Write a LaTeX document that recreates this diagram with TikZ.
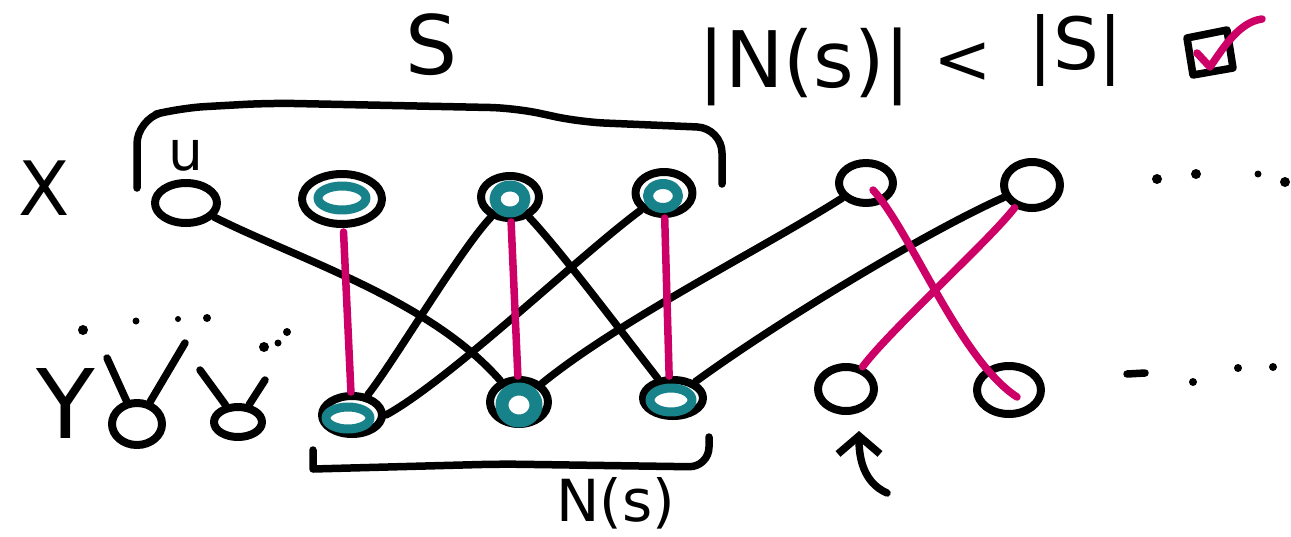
\documentclass[tikz,border=0pt]{standalone}
\usepackage{fontspec}
\setmainfont{DejaVu Sans}
\usetikzlibrary{shapes.geometric,arrows.meta}
\definecolor{mag}{RGB}{204,0,102}
\definecolor{tealc}{RGB}{24,130,138}
\begin{document}
\begin{tikzpicture}[x=1pt,y=-1pt,line cap=round,line join=round,
  vtx/.style={draw=black,line width=8pt,ellipse,inner sep=0pt},
  ringnode/.style={draw=tealc,line width=9pt,ellipse,inner sep=0pt},
  edgeline/.style={draw=black,line width=7.5pt},
  matchline/.style={draw=mag,line width=7.5pt},
  txt/.style={inner sep=0pt}]
\useasboundingbox (0,0) rectangle (1291,536);
\fill[white] (0,0) rectangle (1291,536);

% --- X side vertices
\node[vtx,minimum width=62pt,minimum height=40pt] (u)  at (186,203) {};
\node[vtx,minimum width=80pt,minimum height=50pt] (x2) at (342,199) {};
\node[vtx,minimum width=58pt,minimum height=42pt] (x3) at (510,197) {};
\node[vtx,minimum width=57pt,minimum height=42pt] (x4) at (664,193) {};
\node[vtx,minimum width=54pt,minimum height=40pt] (x5) at (866,183) {};
\node[vtx,minimum width=56pt,minimum height=46pt] (x6) at (1032,185) {};
% --- Y side vertices
\node[vtx,minimum width=50pt,minimum height=42pt] (ya) at (137,424) {};
\node[vtx,minimum width=48pt,minimum height=30pt] (yb) at (238,422) {};
\node[vtx,minimum width=60pt,minimum height=38pt] (y1) at (352,415) {};
\node[vtx,minimum width=58pt,minimum height=44pt] (y2) at (519,402) {};
\node[vtx,minimum width=60pt,minimum height=36pt] (y3) at (673,398) {};
\node[vtx,minimum width=56pt,minimum height=44pt] (y4) at (846,389) {};
\node[vtx,minimum width=64pt,minimum height=48pt] (y5) at (1009,390) {};

% --- teal marks inside vertices of S and N(S)
\node[ringnode,minimum width=48pt,minimum height=24pt] (x2r) at (342,198) {};
\node[ringnode,minimum width=30pt,minimum height=26pt,line width=11pt] (x3r) at (510,199) {};
\node[ringnode,minimum width=30pt,minimum height=24pt,line width=10pt] (x4r) at (663,196) {};
\node[ringnode,minimum width=44pt,minimum height=22pt] (y1r) at (348,418) {};
\node[ringnode,minimum width=34pt,minimum height=32pt,line width=13pt] (y2r) at (519,405) {};
\node[ringnode,minimum width=42pt,minimum height=24pt] (y3r) at (671,400) {};

% --- left Y vertices stems
\coordinate (ya1) at (107,358);
\coordinate (ya2) at (185,343);
\coordinate (yb1) at (200,370);
\coordinate (yb2) at (265,380);
\draw[edgeline] (ya) -- (ya1);
\draw[edgeline] (ya) -- (ya2);
\draw[edgeline] (yb) -- (yb1);
\draw[edgeline] (yb) -- (yb2);

% --- black edges
\draw[edgeline] (u) .. controls (300,260) and (430,300) .. (y2);
\draw[edgeline] (x3) .. controls (460,250) and (395,360) .. (y1);
\draw[edgeline] (x3) .. controls (560,250) and (620,330) .. (y3);
\draw[edgeline] (x4) .. controls (580,255) and (450,380) .. (y1.east);
\draw[edgeline] (y2) .. controls (620,320) and (760,250) .. (x5);
\draw[edgeline] (y3) .. controls (780,320) and (930,230) .. (x6);

% --- matching edges
\draw[matchline,shorten <=4pt] (x2) -- (y1);
\draw[matchline] (x3) -- (y2);
\draw[matchline] (x4) -- (y3.100);
\draw[matchline] ([shift={(7,7)}]x5.center) .. controls (910,230) and (960,360) .. ([shift={(8,7)}]y5.center);
\draw[matchline] (x6) .. controls (990,240) and (890,330) .. (y4);

% --- brackets
\draw[edgeline,rounded corners=25pt] (137,188) -- (137,119) -- (180,108) -- (270,103) -- (515,108) -- (580,122) -- (722,128) [sharp corners] -- (722,184);
\draw[edgeline,rounded corners=20pt] (313,450) [sharp corners] -- (313,469) [rounded corners=20pt] -- (500,464) -- (709,467) [sharp corners] -- (709,437);

% --- arrow
\coordinate (arrtail) at (887,493);
\draw[edgeline,-{Straight Barb[length=18pt,width=42pt]}] (arrtail) .. controls (862,482) and (859,455) .. ([shift={(13,16)}]y4.south);

% --- dots
\foreach \p/\r in {{83,330}/5,{136,321}/3.5,{178,319}/3,{207,318}/4,{264,347}/5,{278,343}/3.5,{287,332}/4,
  {1157,179}/5,{1196,174}/5,{1258,174}/3.5,{1285,182}/5,{1193,382}/4,{1238,368}/4,{1273,367}/4}
  \fill (\p) circle [radius=\r pt];
\draw[edgeline] (1127,374) -- (1145,373);

% --- checkbox
\draw[edgeline] (1187,38) -- (1227,30) -- (1233,68) -- (1193,75) -- cycle;
\draw[matchline] (1197,53) -- (1210,67) .. controls (1225,45) and (1240,22) .. (1262,19);

% --- labels
\node[txt,font=\fontsize{75}{75}\selectfont] (Xl) at (44,188) {X};
\node[txt,font=\fontsize{96}{96}\selectfont] (Yl) at (66,404) {Y};
\node[txt,font=\fontsize{82}{82}\selectfont] (Sl) at (432,45) {S};
\node[txt,font=\fontsize{55}{55}\selectfont] (ul) at (186,155) {u};
\node[txt,font=\fontsize{58}{58}\selectfont] (NSl) at (616,503) {N(s)};
\node[txt,font=\fontsize{78}{78}\selectfont] (condA) at (805,67) {|N(s)|};
\node[txt,font=\fontsize{70}{70}\selectfont] (condB) at (963,63) {<};
\node[txt,font=\fontsize{72}{72}\selectfont] (condC) at (1076,50) {|S|};
\end{tikzpicture}
\end{document}
